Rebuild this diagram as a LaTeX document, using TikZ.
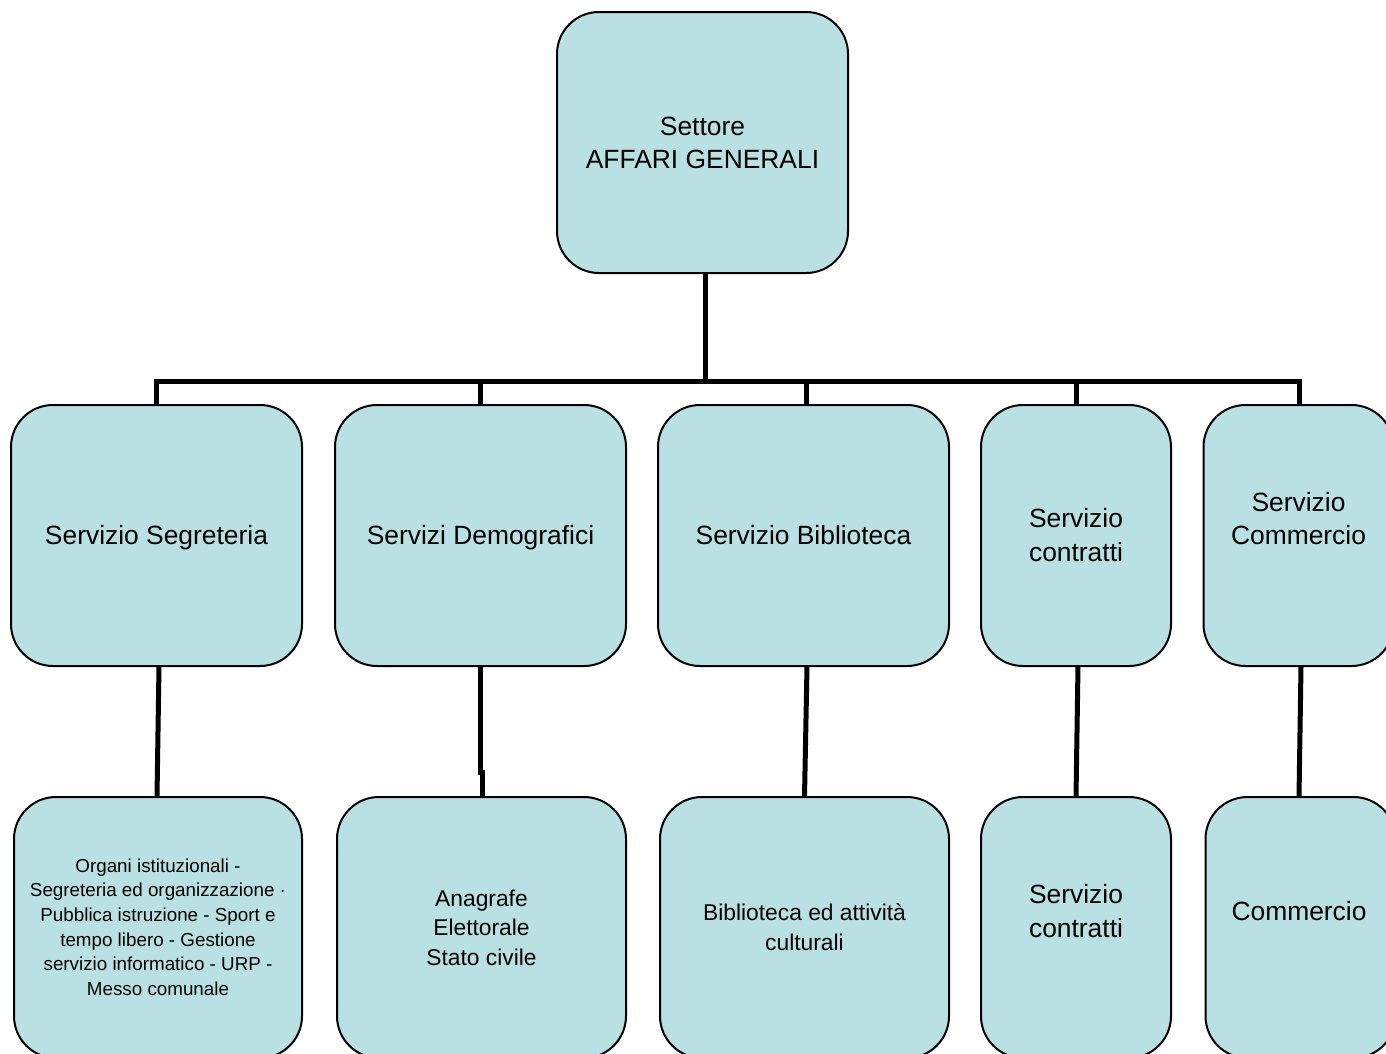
\documentclass[tikz,border=0pt]{standalone}
\usepackage{fontspec}
\setmainfont{Liberation Sans}
\definecolor{boxfill}{RGB}{185,224,227}
\begin{document}
\begin{tikzpicture}[x=1pt,y=-1pt,
  box/.style={draw=black,line width=2pt,fill=boxfill,rounded corners=42pt,inner sep=0pt,outer sep=0pt},
  wide/.style={box,minimum width=291pt,minimum height=261pt},
  narrow/.style={box,minimum width=190pt,minimum height=261pt},
  lbl/.style={align=center,inner sep=0pt,text=black},
  big/.style={lbl,font=\fontsize{26.4}{33.5}\selectfont},
  mid/.style={lbl,font=\fontsize{22.8}{29.4}\selectfont},
  small/.style={lbl,font=\fontsize{18.8}{24.6}\selectfont},
  conn/.style={line width=5pt,draw=black,line join=miter}]
\useasboundingbox (0,0) rectangle (1386,1053);
\clip (0,0) rectangle (1386,1053);
\fill[white] (0,0) rectangle (1386,1053);
% boxes
\node[wide] (top) at (702.5,142.5) {};
\node[wide] (b1) at (156.5,535.5) {};
\node[wide] (b2) at (480.5,535.5) {};
\node[wide] (b3) at (803.5,535.5) {};
\node[narrow] (b4) at (1076,535.5) {};
\node[narrow] (b5) at (1298.5,535.5) {};
\node[box,minimum width=288pt,minimum height=261pt] (c1) at (158,927.5) {};
\node[box,minimum width=289pt,minimum height=261pt] (c2) at (481.5,927.5) {};
\node[box,minimum width=289pt,minimum height=261pt] (c3) at (804.5,927.5) {};
\node[narrow] (c4) at (1076,927.5) {};
\node[narrow] (c5) at (1300.5,927.5) {};
% texts
\node[big] (toptxt) at (702.5,143) {Settore\\AFFARI GENERALI};
\node[big] (b1txt) at (156.5,538) {Servizio Segreteria};
\node[big] (b2txt) at (480.5,538) {Servizi Demografici};
\node[big] (b3txt) at (803.5,535) {Servizio Biblioteca};
\node[big] (b4txt) at (1076,535) {Servizio\\contratti};
\node[big] (b5txt) at (1298.5,518.5) {Servizio\\Commercio};
\node[small] (c1txt) at (158,927) {Organi istituzionali -\\Segreteria ed organizzazione ·\\Pubblica istruzione - Sport e\\tempo libero - Gestione\\servizio informatico - URP -\\Messo comunale};
\node[mid] (c2txt) at (481.5,927.5) {Anagrafe\\Elettorale\\Stato civile};
\node[mid] (c3txt) at (804.5,927) {Biblioteca ed attività\\culturali};
\node[big] (c4txt) at (1076,911) {Servizio\\contratti};
\node[big] (c5txt) at (1299,911) {Commercio};
% connectors
\coordinate (bar) at (705,381);
\draw[conn] ([xshift=2.5]top.south) -- (bar);
\draw[conn] (156,405) coordinate (d1) -- (d1 |- bar) -- (1299,381) coordinate (d5e) -- (1299,405) coordinate (d5);
\draw[conn] (480,381) coordinate (d2t) -- (b2.north -| d2t);
\draw[conn] (806,381) coordinate (d3t) -- (b3.north -| d3t);
\draw[conn] (1076,381) coordinate (d4t) -- (b4.north);
\draw[conn] ([xshift=2.5]b1.south) -- ([xshift=-1]c1.north);
\draw[conn] ([xshift=-0.5]b2.south) -- ++(0,106) coordinate (jog) -- ++(2,0) -- ([xshift=0.5]c2.north);
\draw[conn] ([xshift=3.5]b3.south) -- (c3.north);
\draw[conn] ([xshift=2]b4.south) -- (c4.north);
\draw[conn] ([xshift=2.5]b5.south) -- ([xshift=-1.5]c5.north);
\end{tikzpicture}
\end{document}
